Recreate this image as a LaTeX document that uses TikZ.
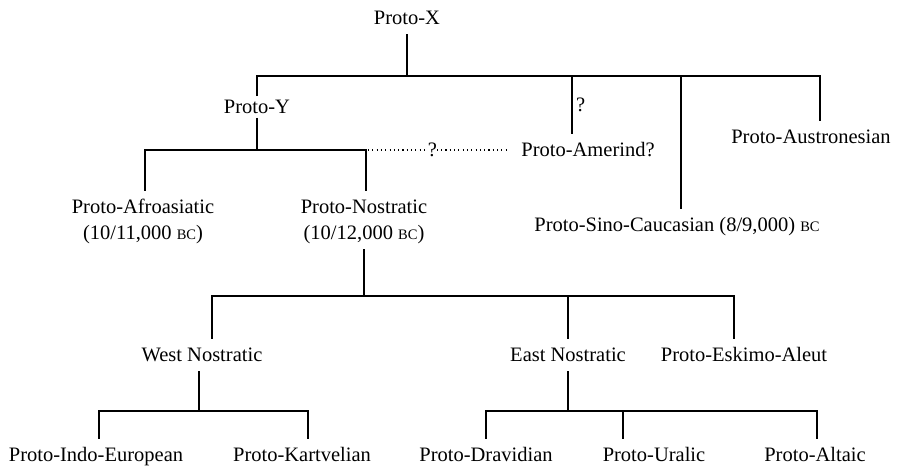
\documentclass[tikz,border=0pt]{standalone}
\usepackage{fontspec}
\setmainfont{Liberation Serif}
\newcommand{\bcera}{{\fontsize{14.5}{14.5}\selectfont BC}}

\begin{document}
\begin{tikzpicture}[x=1pt, y=-1pt, line width=1.4pt,
    lang/.style={inner xsep=0pt, inner ysep=9pt, text height=13.5pt, text depth=0pt,
      font=\fontsize{20.5}{24}\selectfont},
    query/.style={dash pattern=on 1.1pt off 3.2pt, line width=1.2pt}]
  \useasboundingbox (0,0) rectangle (904,466);

  % top level
  \node[lang] (protoX) at (407,18) {Proto-X};
  \node[lang, inner ysep=3.5pt] (protoY) at (257,107) {Proto-Y};
  \node[lang] (amerind) at (588,150) {Proto-Amerind?};
  \node[lang] (sino) at (677,225) {Proto-Sino-Caucasian (8/9,000) \bcera};
  \node[lang] (austro) at (811,137) {Proto-Austronesian};
  \coordinate (bar1) at (407,76);

  \draw (protoX.south) -- (bar1);
  \draw (protoY.north) |- (bar1) -| ([xshift=9pt]austro.north);
  \draw ([xshift=4pt]sino.north) -- ([xshift=4pt]sino.north |- bar1);
  \draw ([xshift=-16pt]amerind.north)
    -- node[right, lang, inner xsep=3.5pt, inner ysep=0pt] {?}
    ([xshift=-16pt]amerind.north |- bar1);

  % Proto-Y
  \node[lang] (afro) at (143,207) {Proto-Afroasiatic};
  \node[lang] (afrodate) at (143,233) {(10/11,000 \bcera)};
  \node[lang] (nostr) at (364,207) {Proto-Nostratic};
  \node[lang] (nostrdate) at (364,233) {(10/12,000 \bcera)};
  \coordinate (bar2) at (366,150);

  \draw (protoY.south) -- (protoY.south |- bar2);
  \draw ([xshift=2pt]afro.north) |- (bar2) -| ([xshift=2pt]nostr.north);
  \draw[query, shorten <=2pt, shorten >=13pt] (bar2)
    -- node[pos=0.43, lang, fill=white, inner xsep=0pt, inner ysep=0pt] {?} (amerind.west);

  % Proto-Nostratic
  \node[lang] (westN) at (202,355) {West Nostratic};
  \node[lang] (eastN) at (568,355) {East Nostratic};
  \node[lang] (eskimo) at (744,355) {Proto-Eskimo-Aleut};
  \coordinate (bar3) at (363,296);

  \draw (nostrdate.south) -- (nostrdate.south |- bar3);
  \draw ([xshift=10pt]westN.north) |- (bar3) -| ([xshift=-10pt]eskimo.north);
  \draw (eastN.north) -- (eastN.north |- bar3);

  % West Nostratic
  \node[lang] (pie) at (96,455) {Proto-Indo-European};
  \node[lang] (kartv) at (302,455) {Proto-Kartvelian};
  \coordinate (bar4) at (199,411);

  \draw ([xshift=-3pt]westN.south) -- (bar4);
  \draw ([xshift=3pt]pie.north) |- (bar4) -| ([xshift=6pt]kartv.north);

  % East Nostratic
  \node[lang] (drav) at (486,455) {Proto-Dravidian};
  \node[lang] (uralic) at (654,455) {Proto-Uralic};
  \node[lang] (altaic) at (815,455) {Proto-Altaic};
  \coordinate (bar5) at (568,411);

  \draw (eastN.south) -- (bar5);
  \draw (drav.north) |- (bar5) -| ([xshift=2pt]altaic.north);
  \draw ([xshift=-31pt]uralic.north) -- ([xshift=-31pt]uralic.north |- bar5);
\end{tikzpicture}
\end{document}
